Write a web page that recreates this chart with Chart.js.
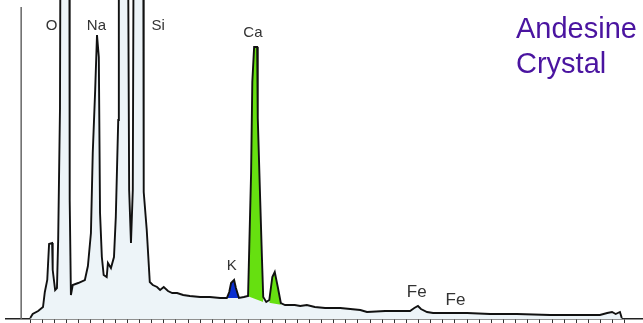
<!DOCTYPE html>
<html>
<head>
<meta charset="utf-8">
<script src="https://cdn.jsdelivr.net/npm/chart.js@4.4.1/dist/chart.umd.min.js"></script>
<style>
  body { margin: 0; background: #fff; }
  #wrap { width: 643px; height: 323px; position: relative; }
</style>
</head>
<body>
<div id="wrap"><canvas id="grafico"></canvas></div>
<script>
/* Espectro EDS - energia (keV) e contagens (unidades relativas) */
const energia = [0.00, 0.04, 0.13, 0.21, 0.24, 0.28, 0.31, 0.36, 0.37, 0.41, 0.44, 0.46, 0.49, 0.52, 0.59, 0.64, 0.65, 0.67,
  0.70, 0.79, 0.90, 0.95, 1.00, 1.03, 1.07, 1.10, 1.13, 1.15, 1.18, 1.21, 1.26, 1.28, 1.33, 1.38, 1.41, 1.45, 1.46,
  1.54, 1.61, 1.63, 1.66, 1.69, 1.71, 1.78, 1.86, 1.87, 1.92, 1.97, 2.02, 2.09, 2.14, 2.20, 2.27, 2.34, 2.42, 2.52,
  2.63, 2.80, 2.96, 3.13, 3.24, 3.28, 3.31, 3.36, 3.39, 3.44, 3.52, 3.59, 3.61, 3.64, 3.66, 3.69, 3.74, 3.75, 3.79,
  3.82, 3.84, 3.89, 3.94, 3.99, 4.03, 4.08, 4.13, 4.20, 4.36, 4.45, 4.56, 4.69, 4.86, 5.11, 5.44, 5.55, 5.85, 6.09,
  6.26, 6.33, 6.39, 6.44, 6.54, 6.64, 6.84, 7.20, 7.58, 8.02, 8.57, 9.06, 9.39, 9.51, 9.59, 9.65, 9.72, 9.75];
const contagens = [1, 5, 8, 12, 27, 39, 75, 76, 49, 29, 31, 79, 211, 900, 1100, 600, 119, 24,
  34, 36, 39, 53, 86, 166, 229, 284, 262, 106, 62, 44, 42, 56, 51, 62, 102, 199, 400,
  700, 400, 129, 76, 129, 500, 1500, 500, 127, 89, 37, 34, 32, 29, 32, 28, 26, 26, 24,
  23, 22, 22, 21, 21, 27, 36, 39, 31, 21, 22, 23, 72, 146, 237, 272, 272, 201, 119,
  59, 22, 17, 19, 42, 47, 32, 16, 14, 14, 13, 14, 12, 11, 11, 9, 7, 8, 8,
  8, 11, 13, 10, 7, 6, 6, 6, 5, 5, 4, 4, 4, 6, 7, 5, 7, 1];

/* Pico do K (azul) */
const energiaK = [3.24, 3.28, 3.31, 3.36, 3.39, 3.44];
const contagensK = [21, 27, 36, 39, 31, 21];
const fundoK = 21;

/* Picos do Ca (verde) e linha de fundo */
const energiaCa = [3.59, 3.61, 3.64, 3.66, 3.69, 3.74, 3.75, 3.79, 3.82, 3.84];
const contagensCa = [23, 72, 146, 237, 272, 272, 201, 119, 59, 22];
const energiaCaKb = [3.94, 3.99, 4.03, 4.08, 4.13];
const contagensCaKb = [19, 42, 47, 32, 16];
const energiaFundo = [3.58, 3.84, 3.96, 4.15];
const contagensFundo = [23, 17, 16, 14];

/* Linha vertical de marcação */
const energiaMarcador = [-0.15, -0.15];
const contagensMarcador = [0, 312];

/* Rótulos dos elementos */
const rotulos = ['O', 'Na', 'Si', 'Ca', 'K', 'Fe', 'Fe'];
const rotuloEnergia = [0.35, 1.09, 2.11, 3.67, 3.32, 6.37, 7.01];
const rotuloAltura = [293, 293, 293, 286, 53, 27, 19];
const rotuloFonte = [15, 15, 15, 15, 15, 17, 17];

const tituloLinhas = ['Andesine', 'Crystal'];

const pontos = (xs, ys) => xs.map((x, i) => ({ x: x, y: ys[i] }));

/* Plugin para escrever os rótulos e o título */
const textos = {
  id: 'textos',
  afterDatasetsDraw(chart) {
    const ctx = chart.ctx;
    const sx = chart.scales.x, sy = chart.scales.y;
    ctx.save();
    ctx.fillStyle = '#333';
    ctx.textAlign = 'center';
    ctx.textBaseline = 'middle';
    for (let i = 0; i < rotulos.length; i++) {
      ctx.font = rotuloFonte[i] + 'px "Liberation Sans", Arial, sans-serif';
      ctx.fillText(rotulos[i], sx.getPixelForValue(rotuloEnergia[i]), sy.getPixelForValue(rotuloAltura[i]));
    }
    ctx.fillStyle = '#4a14a0';
    ctx.textAlign = 'left';
    ctx.textBaseline = 'alphabetic';
    ctx.font = '29px "Liberation Sans", Arial, sans-serif';
    ctx.fillText(tituloLinhas[0], 516, 38);
    ctx.fillText(tituloLinhas[1], 516, 73);
    ctx.restore();
  }
};

const ctx = document.getElementById('grafico');
const myChart = new Chart(ctx, {
  type: 'line',
  data: {
    datasets: [
      { data: pontos(energia, contagens), borderColor: '#111', borderWidth: 1.9, fill: false, order: 0 },
      { data: pontos(energiaK, contagensK), borderWidth: 0, backgroundColor: '#0a2fd0', fill: { value: fundoK }, order: 1 },
      { data: pontos(energiaCa, contagensCa), borderWidth: 0, backgroundColor: '#66e010', fill: 4, order: 1 },
      { data: pontos(energiaCaKb, contagensCaKb), borderWidth: 0, backgroundColor: '#66e010', fill: 4, order: 1 },
      { data: pontos(energiaFundo, contagensFundo), borderWidth: 0, fill: false, order: 1 },
      { data: pontos(energia, contagens), borderWidth: 0, backgroundColor: '#edf4f8', fill: 'origin', order: 2 },
      { data: pontos(energiaMarcador, contagensMarcador), borderColor: '#666', borderWidth: 1.5, fill: false, order: 0 }
    ]
  },
  options: {
    responsive: true,
    maintainAspectRatio: false,
    animation: false,
    events: [],
    layout: { padding: { left: 6, right: 0, top: 0, bottom: 0 } },
    elements: { point: { radius: 0 }, line: { tension: 0 } },
    plugins: { legend: { display: false }, tooltip: { enabled: false } },
    scales: {
      x: {
        type: 'linear', min: -0.4, max: 10.1,
        ticks: { display: false, stepSize: 0.2 },
        afterBuildTicks: axis => { axis.ticks = axis.ticks.filter(t => t.value >= -0.001 && t.value <= 10.01); },
        grid: { drawOnChartArea: false, drawTicks: true, tickLength: 4, color: '#333', lineWidth: 1 },
        border: { display: true, color: '#222', width: 1.5 }
      },
      y: { display: false, min: 0, max: 319 }
    }
  },
  plugins: [textos]
});
</script>
</body>
</html>
